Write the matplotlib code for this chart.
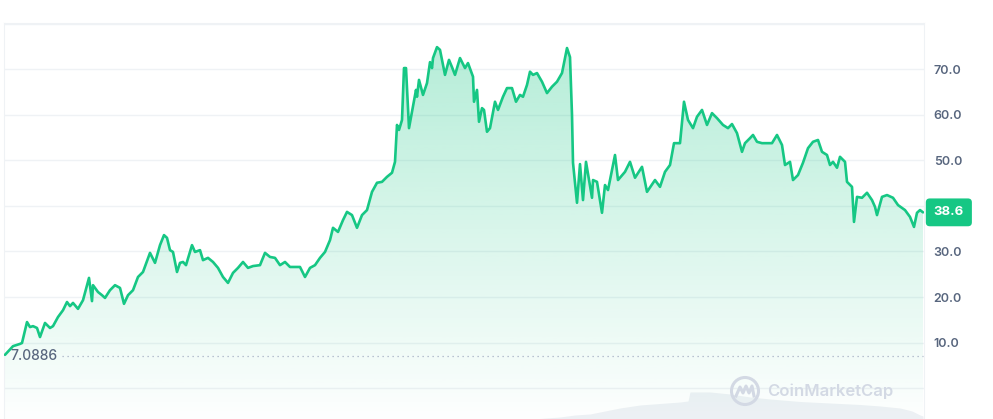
import numpy as np
import matplotlib
matplotlib.use("Agg")
import matplotlib.pyplot as plt
from matplotlib.patches import Polygon, Ellipse
from matplotlib.lines import Line2D

# price series (time step, price)
t = [5, 13, 20, 22, 27, 30, 33, 37, 40, 45, 50, 53, 58, 63, 67, 70, 73, 78, 83, 89,
     92, 93, 98, 102, 105, 110, 115, 120, 124, 128, 133, 138, 143, 150, 155, 160, 164, 167, 170, 173,
     177, 180, 183, 186, 192, 195, 200, 203, 208, 213, 218, 223, 228, 233, 238, 243, 248, 253, 260, 265,
     270, 275, 280, 285, 290, 297, 300, 305, 310, 315, 320, 325, 330, 333, 338, 343, 347, 352, 357, 362,
     367, 372, 377, 382, 387, 392, 395, 397, 399, 402, 404, 406, 409, 412, 416, 417, 419, 423, 427, 430,
     432, 433, 437, 440, 445, 449, 452, 455, 460, 465, 468, 473, 474, 477, 479, 482, 484, 487, 490, 495,
     498, 503, 507, 512, 516, 520, 523, 527, 530, 533, 537, 542, 547, 552, 557, 562, 567, 570, 572, 573,
     577, 580, 583, 586, 592, 593, 597, 602, 605, 608, 615, 618, 625, 630, 635, 642, 647, 655, 660, 665,
     670, 674, 680, 684, 688, 693, 697, 702, 707, 712, 717, 723, 728, 732, 737, 742, 745, 750, 753, 757,
     762, 767, 772, 777, 782, 785, 790, 793, 798, 803, 808, 813, 818, 822, 827, 830, 833, 837, 840, 845,
     847, 852, 854, 857, 862, 867, 872, 875, 877, 882, 887, 893, 898, 905, 910, 914, 917, 920, 923]
price = [7.3, 9.2, 9.7, 9.9, 14.5, 13.4, 13.6, 13.2, 11.2, 14.3, 13.2, 13.6, 15.6, 17.1, 18.9, 18.0, 18.7, 17.4, 19.3, 24.2,
         19.1, 22.6, 21.1, 20.4, 19.8, 21.5, 22.6, 22.0, 18.5, 20.4, 21.5, 24.4, 25.5, 29.7, 27.5, 31.4, 33.6, 33.0, 30.3, 29.9,
         25.5, 27.5, 27.7, 27.0, 31.4, 29.9, 30.3, 28.1, 28.6, 27.7, 26.4, 24.4, 23.1, 25.3, 26.4, 27.7, 26.4, 26.8, 27.0, 29.7,
         28.8, 28.6, 27.0, 27.7, 26.6, 26.6, 26.6, 24.4, 26.4, 27.0, 28.6, 29.9, 32.5, 35.2, 34.3, 36.9, 38.7, 38.0, 35.2, 38.0,
         39.1, 43.1, 45.1, 45.3, 46.4, 47.3, 49.7, 57.8, 56.7, 58.9, 70.3, 70.3, 57.1, 60.7, 65.5, 64.0, 67.7, 64.4, 67.0, 71.6,
         70.3, 72.5, 74.9, 74.3, 68.8, 72.1, 70.5, 68.8, 72.5, 70.3, 71.4, 68.4, 62.9, 65.5, 58.5, 61.5, 61.1, 56.3, 57.1, 62.9,
         61.1, 64.0, 65.9, 65.9, 62.9, 64.4, 64.0, 66.6, 69.5, 68.8, 69.2, 67.3, 64.8, 66.2, 67.3, 69.2, 74.7, 72.7, 60.0, 49.5,
         40.7, 49.2, 41.3, 49.7, 41.8, 45.7, 45.3, 38.5, 44.6, 43.5, 51.2, 45.7, 47.5, 49.7, 46.2, 48.6, 43.1, 45.7, 44.2, 47.5,
         49.0, 53.8, 53.8, 62.9, 58.9, 57.1, 59.6, 61.1, 57.8, 60.4, 59.3, 57.8, 57.1, 58.0, 56.0, 51.9, 53.8, 54.9, 55.6, 54.1,
         53.8, 53.8, 53.8, 55.6, 53.4, 49.0, 49.7, 45.7, 46.8, 49.5, 52.7, 54.1, 54.5, 51.9, 51.2, 49.0, 49.7, 48.4, 50.8, 49.7,
         45.3, 44.2, 36.5, 42.0, 41.8, 42.9, 41.3, 39.8, 38.0, 42.0, 42.4, 41.8, 40.2, 39.1, 37.6, 35.4, 38.5, 39.1, 38.6]

open_price = 7.0886
last_label = "38.6"

# trading volume (arbitrary units)
vol_t = [400, 540, 560, 575, 590, 600, 620, 640, 660, 680, 688, 690, 710, 730, 750, 770, 800, 830, 860, 880, 900, 912, 920, 923]
volume = [0, 0.5, 2, 4, 5, 7, 11, 14, 15.5, 17, 18, 27, 27, 25, 22, 20, 17.5, 16, 14.5, 13, 11, 8, 4, 3]

yticks = [0, 10, 20, 30, 40, 50, 60, 70, 80]
# 40.0 sits under the last-price tag
ytick_labels = ["", "10.0", "20.0", "30.0", "", "50.0", "60.0", "70.0", ""]

green = "#16c784"
grey_text = "#58667e"
grid_c = "#eff2f5"

fig = plt.figure(figsize=(9.93, 4.19), dpi=100)
ax = fig.add_axes([4 / 993, 0, 920 / 993, 396 / 419])
ymin, ymax = -6.8, 80.2

# volume behind
axv = ax.twinx()
axv.fill_between(vol_t, volume, 0, color="#eef1f5", lw=0)
axv.set_ylim(0, 396)
axv.set_yticks([])
for s in axv.spines.values():
    s.set_visible(False)
ax.set_zorder(axv.get_zorder() + 1)
ax.patch.set_visible(False)

# gradient fill under the line
verts = [(t[0], ymin)] + list(zip(t, price)) + [(t[-1], ymin)]
clip = Polygon(verts, closed=True, facecolor="none", edgecolor="none")
ax.add_patch(clip)
yy = np.linspace(ymin, ymax, 256)
alpha = np.clip(0.07 + (yy - 10) * 0.0038, 0.01, 0.4)
rgb = matplotlib.colors.to_rgb(green)
grad = np.zeros((256, 1, 4))
grad[:, 0, :3] = rgb
grad[:, 0, 3] = alpha
im = ax.imshow(grad, extent=[t[0], t[-1], ymin, ymax], origin="lower", aspect="auto", zorder=1)
im.set_clip_path(clip)

ax.plot(t, price, color=green, lw=1.9, solid_joinstyle="round", solid_capstyle="round", zorder=3)

# open price reference
ax.hlines(open_price, 62, t[-1], colors="#a6b0c3", linestyles=(0, (1, 3)), lw=0.9, zorder=2)
ax.text(10, open_price, f"{open_price}", color=grey_text, fontsize=10, va="center", ha="left",
        fontfamily="Inter", fontweight="medium", zorder=4)

ax.set_xlim(4, 924)
ax.set_ylim(ymin, ymax)
ax.set_xticks([])
ax.yaxis.tick_right()
ax.set_yticks(yticks)
ax.set_yticklabels(ytick_labels, fontfamily="Inter", fontweight="semibold")
ax.tick_params(axis="y", length=0, pad=7, labelsize=9, labelcolor=grey_text)
ax.grid(axis="y", color=grid_c, lw=1)
ax.set_axisbelow(True)
for side in ["left", "right", "top"]:
    ax.spines[side].set_color(grid_c)
ax.spines["bottom"].set_visible(False)

# last price tag
ax.annotate(last_label, xy=(1, price[-1]), xycoords=("axes fraction", "data"),
            xytext=(7, 0), textcoords="offset points", ha="left", va="center",
            fontsize=9.5, fontweight="bold", fontfamily="Inter", color="white", annotation_clip=False,
            bbox=dict(boxstyle="round,pad=0.6,rounding_size=0.3", fc=green, ec="none"))

# watermark
wm = "#d3d9e4"
fig.patches.append(Ellipse((745 / 993, 1 - 391 / 419), 27 / 993, 27 / 419, transform=fig.transFigure,
                           fill=False, ec=wm, lw=2.2))
wx = np.array([736, 740, 743, 746, 749, 752, 754]) / 993
wy = 1 - np.array([396, 387, 393, 386, 393, 386, 396]) / 419
fig.lines.append(Line2D(wx, wy, transform=fig.transFigure, color=wm, lw=2.2, solid_joinstyle="round"))
fig.text(767 / 993, 1 - 391 / 419, "CoinMarketCap", color=wm, fontsize=12, fontweight="semibold",
         fontfamily="Inter", va="center", ha="left")

fig.savefig("out.png", dpi=100)
